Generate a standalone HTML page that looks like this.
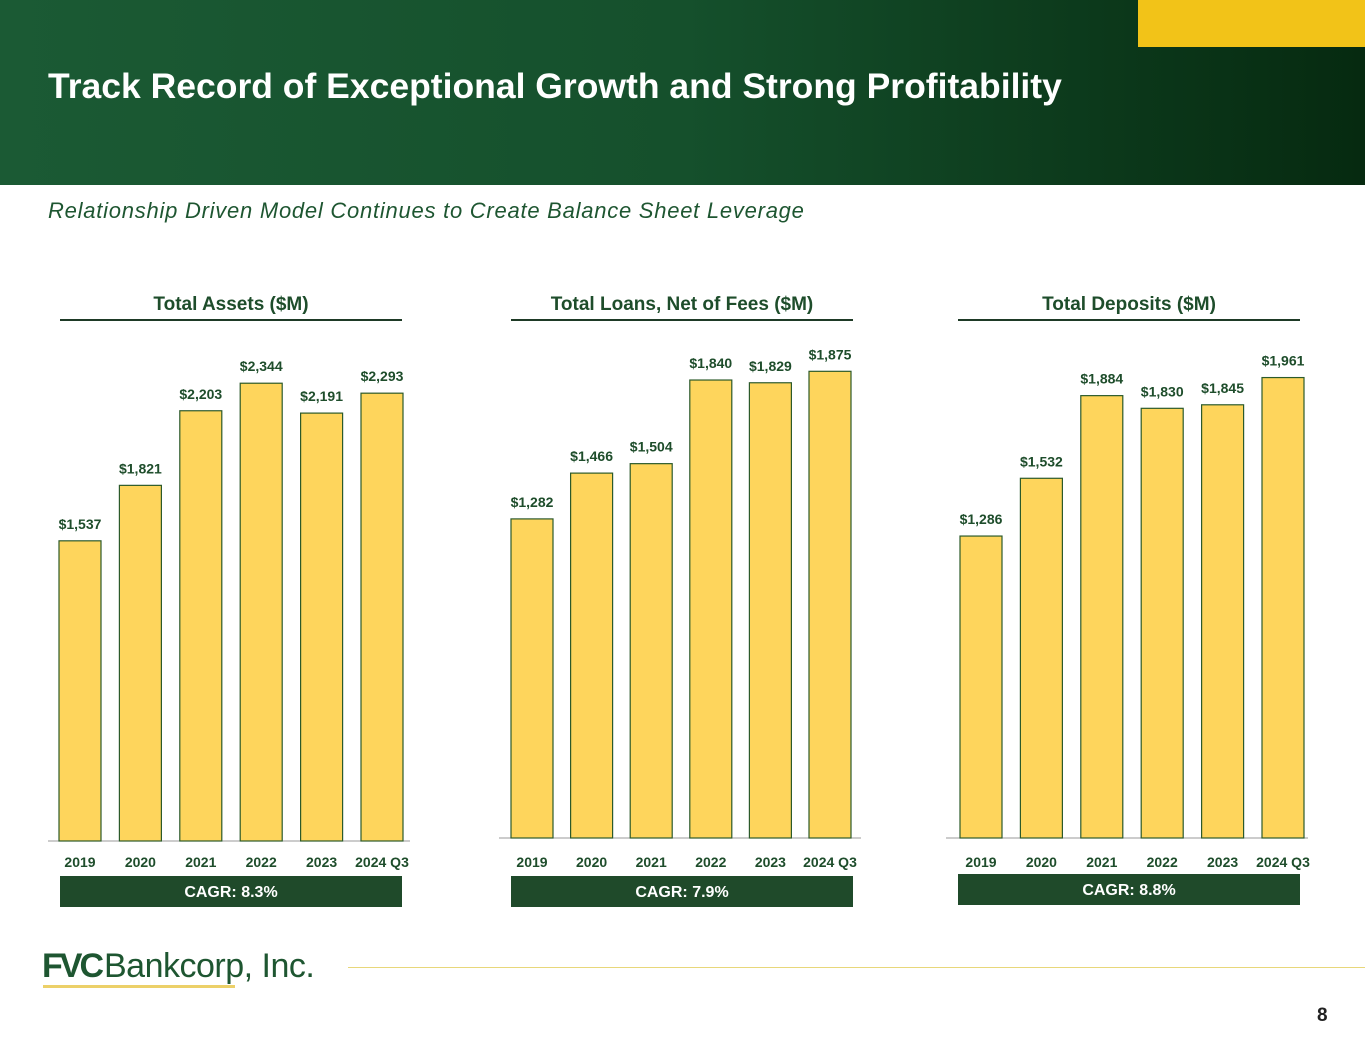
<!DOCTYPE html>
<html><head><meta charset="utf-8"><style>
body{margin:0;width:1365px;height:1055px;position:relative;background:#fff;font-family:"Liberation Sans",sans-serif;overflow:hidden}
#hdr{position:absolute;left:0;top:0;width:1365px;height:185px;background:linear-gradient(90deg,#1b5a34 0%,#15502c 50%,#062a10 100%)}
#ybox{position:absolute;left:1138px;top:0;width:227px;height:47px;background:#f2c318}
#title{position:absolute;left:48px;top:66px;color:#fff;font-weight:bold;font-size:35.5px;white-space:nowrap}
#sub{position:absolute;left:48px;top:198px;color:#1e5631;font-style:italic;font-size:22px;letter-spacing:0.75px;white-space:nowrap}
#logo{position:absolute;left:42px;top:947px;font-size:34px;color:#1e5631;white-space:nowrap;letter-spacing:-0.5px}
#logoline{position:absolute;left:43px;top:985px;width:192px;height:3px;background:#ecd068}
#rule{position:absolute;left:348px;top:967px;width:1017px;height:1px;background:#e8d77a}
#pg{position:absolute;left:1317px;top:1005px;font-weight:bold;font-size:19px;color:#222}
</style></head><body>
<div id="hdr"></div>
<div id="ybox"></div>
<div id="title">Track Record of Exceptional Growth and Strong Profitability</div>
<div id="sub">Relationship Driven Model Continues to Create Balance Sheet Leverage</div>
<svg id="charts" width="1365" height="1055" style="position:absolute;left:0;top:0"></svg>
<div id="logo"><b style="letter-spacing:-3px">FVC</b><span style="margin-left:3px">Bankcorp, Inc.</span></div>
<div id="logoline"></div>
<div id="rule"></div>
<div id="pg">8</div>
<script>
const categories=["2019","2020","2021","2022","2023","2024 Q3"];
const assetsValues=[1537,1821,2203,2344,2191,2293];
const loansValues=[1282,1466,1504,1840,1829,1875];
const depositsValues=[1286,1532,1884,1830,1845,1961];
const chartTitles=["Total Assets ($M)","Total Loans, Net of Fees ($M)","Total Deposits ($M)"];
const cagrLabels=["CAGR: 8.3%","CAGR: 7.9%","CAGR: 8.8%"];
const NS="http://www.w3.org/2000/svg";
const svg=document.getElementById('charts');
function mk(t,a,txt){const e=document.createElementNS(NS,t);for(const k in a)e.setAttribute(k,a[k]);if(txt!==undefined)e.textContent=txt;svg.appendChild(e);return e;}
const cfg=[
 {vals:assetsValues,left:59,step:60.4,base:841,scale:0.1953,hl:60,hr:402,box:876},
 {vals:loansValues,left:511,step:59.6,base:838,scale:0.2489,hl:511,hr:853,box:876},
 {vals:depositsValues,left:960,step:60.4,base:838,scale:0.2348,hl:958,hr:1300,box:874}
];
cfg.forEach((c,ci)=>{
 const cx=(c.hl+c.hr)/2;
 let e=mk('text',{x:cx,y:310,'text-anchor':'middle','font-size':19,'font-weight':'bold',fill:'#1e4d2b'},chartTitles[ci]);
 
 e=mk('line',{x1:c.hl,x2:c.hr,y1:320,y2:320,stroke:'#1e3a26','stroke-width':2});
 
 e=mk('line',{x1:c.hl-12,x2:c.hr+8,y1:c.base,y2:c.base,stroke:'#9a9a9a','stroke-width':1});
 
 c.vals.forEach((v,i)=>{
  const x=c.left+i*c.step, h=v*c.scale, y=c.base-h;
  let b=mk('rect',{x:x,y:y,width:42,height:h,fill:'#fed55c',stroke:'#2c5a2a','stroke-width':1.2});
  
  
  let t=mk('text',{x:x+21,y:y-12,'text-anchor':'middle','font-size':14,'font-weight':'bold',fill:'#1e4d2b'},'$'+v.toLocaleString('en-US'));
  
  t=mk('text',{x:x+21,y:867,'text-anchor':'middle','font-size':14,'font-weight':'bold',fill:'#1e4d2b'},categories[i]);
  
 });
 e=mk('rect',{x:c.hl,y:c.box,width:c.hr-c.hl,height:31,fill:'#1f4a2a'});
 
 e=mk('text',{x:cx,y:c.box+21,'text-anchor':'middle','font-size':16,'font-weight':'bold',fill:'#fff'},cagrLabels[ci]);
 
});
</script>
</body></html>
